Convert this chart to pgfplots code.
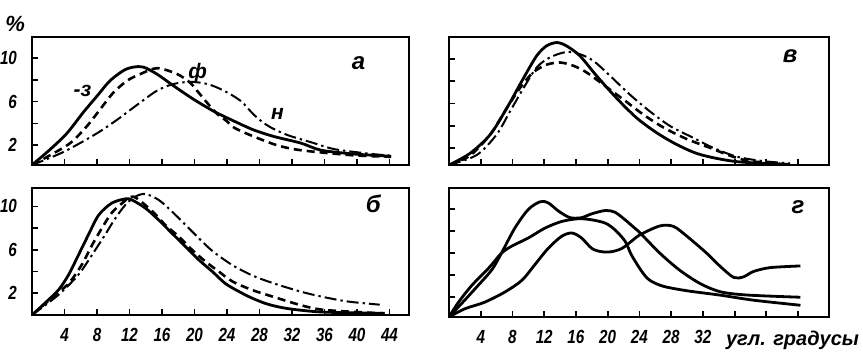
\documentclass[border=0pt]{standalone}
\usepackage{fontspec}
\setmainfont{Liberation Sans}
\newfontfamily\nf{Liberation Sans}[FakeStretch=0.8]
\usepackage{pgfplots}
\pgfplotsset{compat=1.18}
\pgfplotsset{
 panel/.style={
  scale only axis, anchor=south west, clip mode=individual,
  axis line style={line width=1.3pt},
  tick align=inside, xtick pos=bottom, ytick pos=left,
  major tick length=3pt,
  every tick/.style={black, line width=0.9pt},
  xtick={4,8,...,44}, ytick={2,4,6,8,10},
  xmin=0,
  /pgf/number format/assume math mode=true,
  tick label style={font=\nf\bfseries\itshape\fontsize{9.5}{10}\selectfont},
  yticklabel style={xshift=-4pt},
  xticklabel style={yshift=-3pt},
 },
}
\tikzset{
 sol/.style={black, line width=1.4pt, smooth},
 dsh/.style={black, line width=1.3pt, smooth, dash pattern=on 4pt off 2.5pt},
 dd/.style={black, line width=1pt, smooth, dash pattern=on 6pt off 2pt on 1.2pt off 2pt},
 lbl/.style={font=\bfseries\itshape\fontsize{12}{12}\selectfont},
 clbl/.style={font=\bfseries\itshape\fontsize{10.5}{11}\selectfont},
}
\begin{document}
\begin{tikzpicture}
\path[use as bounding box] (0,0) rectangle (431.5pt,180pt);
% ---------------- panel a
\begin{axis}[panel, at={(16pt,97.5pt)}, width=188.5pt, height=64pt,
  xmax=46.4, ymin=0.2, ymax=11.9, xticklabels={}, yticklabels={2,,6,,10}]
\addplot[sol, no markers] coordinates {(0,0.2) (2.2,1.6) (4.3,3.1) (6.3,5.0) (8.0,6.5) (9.6,7.9) (11.3,8.85) (12.5,9.15) (13.7,9.15) (15.4,8.5) (17.4,7.45) (19.9,6.2) (22.4,5.1) (24.9,4.2) (27.3,3.4) (29.8,2.8) (33.1,2.2) (35.6,1.55) (39.7,1.2) (44.2,1.0)};
\addplot[dsh, no markers] coordinates {(0,0.2) (2,1.0) (4.7,2.2) (6.7,3.7) (8.4,5.3) (10.0,6.8) (11.7,7.9) (13.3,8.5) (15.4,9.05) (17.9,8.5) (19.5,7.7) (20.3,7.0) (22.6,5.0) (24.0,4.2) (24.9,3.6) (27.3,2.8) (30.2,2.0) (33.1,1.55) (39.3,1.1) (44.2,0.95)};
\addplot[dd, no markers] coordinates {(0,0.2) (3.9,1.4) (8.0,3.1) (10.5,4.35) (13.3,5.9) (15.4,7.0) (17.4,7.6) (19.5,7.8) (21.6,7.6) (23.6,7.0) (25.7,6.05) (27.3,4.8) (29.0,3.8) (31.4,2.95) (34.7,2.2) (37.2,1.65) (41.3,1.25) (44.2,1.05)};
\node[clbl] at (axis cs:6.2,7.0) {-з};
\node[clbl] at (axis cs:20.4,8.6) {ф};
\node[clbl] at (axis cs:30.2,4.9) {н};
\node[lbl] at (axis cs:40.2,9.5) {а};
\node[font=\bfseries\itshape\fontsize{11}{11}\selectfont] at (rel axis cs:-0.045,1.1) {\%};
\end{axis}
% ---------------- panel b (bottom left)
\begin{axis}[panel, at={(16pt,22.5pt)}, width=188.5pt, height=63.5pt,
  xmax=46.4, ymin=0, ymax=11.7, yticklabels={2,,6,,10}]
\addplot[sol, no markers] coordinates {(0,0) (1.6,1.1) (3.25,2.3) (4.5,3.7) (5.7,5.5) (6.95,7.4) (8.2,9.2) (9.8,10.3) (11.5,10.7) (12.3,10.6) (13.95,9.85) (15.6,8.75) (17.2,7.55) (18.9,6.3) (20.5,5.1) (22.2,4.0) (23.8,2.9) (25.5,2.15) (27.1,1.55) (29.0,1.0) (31.4,0.6) (35.1,0.3) (39.3,0.2) (43.4,0.15)};
\addplot[dsh, no markers] coordinates {(0,0) (2.4,1.55) (4.5,2.9) (6.1,4.6) (7.4,6.45) (8.6,8.0) (9.8,9.4) (11.1,10.3) (12.5,10.9) (14.8,9.55) (16.4,8.3) (18.1,7.2) (19.7,6.0) (21.4,4.9) (23.0,4.0) (24.65,3.1) (27.1,2.3) (29.6,1.7) (33.1,0.9) (35.6,0.5) (39.3,0.3) (43.4,0.15)};
\addplot[dd, no markers] coordinates {(0,0) (3.25,1.85) (5.7,3.7) (7.4,5.55) (9.0,7.4) (10.25,8.9) (11.5,10.15) (12.7,10.9) (13.95,11.15) (15.6,10.6) (17.2,9.55) (18.9,8.3) (20.5,7.1) (22.2,5.9) (24.65,4.6) (27.1,3.65) (29.6,2.95) (33.1,2.15) (35.6,1.7) (38.8,1.25) (42.8,0.95)};
\node[lbl] at (axis cs:42.0,10.2) {б};
\end{axis}
% ---------------- panel v (top right)
\begin{axis}[panel, at={(224.5pt,97.5pt)}, width=190pt, height=64pt,
  xmax=47.9, ymin=0.45, ymax=12.0, xticklabels={}, yticklabels={}]
\addplot[sol, no markers] coordinates {(0,0.45) (2.65,1.5) (5.2,3.2) (7.3,5.6) (9.4,8.3) (11.05,10.3) (12.3,11.2) (13.6,11.5) (14.8,11.2) (16.5,10.3) (18.6,8.5) (21.1,6.5) (23.65,4.7) (26.2,3.35) (28.7,2.3) (31.2,1.5) (33.7,1.05) (36.3,0.75) (39.6,0.6) (43.0,0.5)};
\addplot[dsh, no markers] coordinates {(0,0.45) (2.65,1.3) (5.2,3.2) (7.3,5.6) (8.95,7.4) (10.6,8.8) (12.3,9.5) (14.0,9.7) (15.7,9.4) (17.35,8.8) (19.45,7.7) (22.0,6.35) (24.5,5.0) (27.0,3.85) (29.95,2.8) (32.9,2.0) (35.4,1.3) (37.9,0.8) (41.7,0.6)};
\addplot[dd, no markers] coordinates {(0,0.45) (3.5,1.35) (6.0,3.2) (7.7,5.3) (9.4,7.4) (11.05,9.25) (12.7,10.15) (14.8,10.65) (16.5,10.45) (18.2,9.85) (20.3,8.5) (22.8,6.8) (25.3,5.3) (27.9,3.95) (30.8,2.9) (33.3,2.0) (36.3,1.2) (39.6,0.8) (43.0,0.6)};
\node[lbl] at (axis cs:43.0,10.3) {в};
\end{axis}
% ---------------- panel g (bottom right)
\begin{axis}[panel, at={(224.5pt,21.5pt)}, width=190pt, height=64.5pt,
  xmax=47.9, ymin=0.15, ymax=11.9, yticklabels={},
  xticklabels={4,8,12,16,20,24,28,32,,,}]
\addplot[sol, no markers] coordinates {(0,0.15) (2.0,1.7) (3.7,3.05) (5.4,4.45) (6.6,5.95) (8.3,8.25) (10.0,9.95) (11.5,10.65) (12.5,10.55) (13.8,9.8) (15.25,9.2) (16.7,9.2) (18.0,9.55) (19.7,9.85) (20.9,9.7) (22.2,9.0) (23.4,8.25) (24.1,7.8) (26.6,5.95) (29.1,4.4) (31.65,3.2) (34.2,2.45) (37.6,2.15) (44.3,1.95)};
\addplot[sol, no markers] coordinates {(0,0.15) (1.2,1.5) (2.9,3.05) (5.0,4.6) (6.6,5.95) (7.9,6.6) (10.0,7.35) (12.1,8.25) (14.2,8.85) (16.3,9.1) (18.0,9.0) (19.7,8.7) (20.9,8.1) (22.2,7.05) (23.0,5.8) (24.3,4.3) (25.3,3.5) (27.0,2.95) (30.0,2.54) (34.2,2.14) (38.4,1.68) (44.3,1.22)};
\addplot[sol, no markers] coordinates {(0,0.15) (2.0,0.9) (4.5,1.5) (7.1,2.45) (9.2,3.5) (10.8,4.9) (12.5,6.4) (14.2,7.5) (15.5,7.8) (16.7,7.35) (18.0,6.4) (19.2,6.1) (20.5,6.1) (21.8,6.4) (23.0,7.05) (24.1,7.65) (26.6,8.45) (28.3,8.4) (30.0,7.5) (32.5,5.95) (34.2,4.75) (35.9,3.75) (37.1,3.8) (38.4,4.3) (40.5,4.65) (44.3,4.8)};
\node[lbl] at (axis cs:44.0,10.2) {г};
\node[font=\bfseries\itshape\fontsize{10}{10}\selectfont] at (rel axis cs:0.904,0) [yshift=-11.5pt] {угл. градусы};
\end{axis}
\end{tikzpicture}
\end{document}
